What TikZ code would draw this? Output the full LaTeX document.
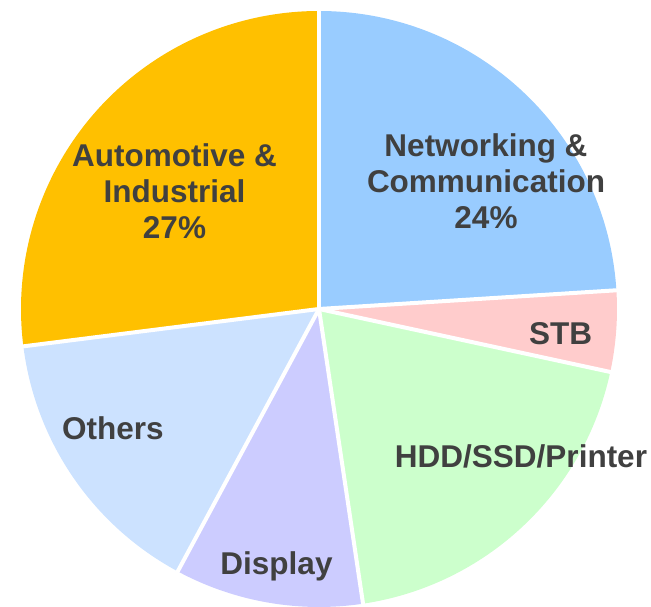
\documentclass[tikz,border=0pt]{standalone}
\usepackage{fontspec}
\setmainfont{Liberation Sans}
\usetikzlibrary{calc}
\definecolor{cAuto}{RGB}{255,192,0}
\definecolor{cNet}{RGB}{153,204,255}
\definecolor{cStb}{RGB}{255,204,204}
\definecolor{cHdd}{RGB}{204,255,204}
\definecolor{cDisp}{RGB}{204,204,255}
\definecolor{cAltri}{RGB}{204,226,255}
\definecolor{cTesto}{RGB}{64,64,64}

\begin{document}
\begin{tikzpicture}[x=1pt, y=1pt,
  every node/.style={font=\fontsize{31.5}{36}\selectfont\bfseries, text=cTesto, align=center, inner sep=0pt},
  bordo/.style={draw=white, line width=4pt, line cap=round}]

\useasboundingbox (0,0) rectangle (651,607);

\coordinate (o) at (319,298);
\coordinate (p1) at ($(o)+(90:298)$);
\coordinate (p2) at ($(o)+(3.6:298)$);
\coordinate (p3) at ($(o)+(-12.2:298)$);
\coordinate (p4) at ($(o)+(-81.5:298)$);
\coordinate (p5) at ($(o)+(-118.3:298)$);
\coordinate (p6) at ($(o)+(-172.8:298)$);

% Spicchi
\fill[cNet] (o) -- (p1) arc[start angle=90, end angle=3.6, radius=298] -- cycle;
\fill[cStb] (o) -- (p2) arc[start angle=3.6, end angle=-12.2, radius=298] -- cycle;
\fill[cHdd] (o) -- (p3) arc[start angle=-12.2, end angle=-81.5, radius=298] -- cycle;
\fill[cDisp] (o) -- (p4) arc[start angle=-81.5, end angle=-118.3, radius=298] -- cycle;
\fill[cAltri] (o) -- (p5) arc[start angle=-118.3, end angle=-172.8, radius=298] -- cycle;
\fill[cAuto] (o) -- (p6) arc[start angle=-172.8, end angle=-270, radius=298] -- cycle;

% Bordi
\draw[bordo] (o) -- (p1);
\draw[bordo] (o) -- (p2);
\draw[bordo] (o) -- (p3);
\draw[bordo] (o) -- (p4);
\draw[bordo] (o) -- (p5);
\draw[bordo] (o) -- (p6);

% Etichette
\node (net) at (486,426) {Networking \&\\Communication\\24\%};
\node[anchor=base] (stb) at (560.5,262) {STB};
\node[anchor=base] (hdd) at (521,139) {HDD/SSD/Printer};
\node[anchor=base] (disp) at (276.5,32) {Display};
\node[anchor=base] (altri) at (113,167) {Others};
\node (auto) at (174.5,416) {Automotive \&\\Industrial\\27\%};

\end{tikzpicture}
\end{document}
